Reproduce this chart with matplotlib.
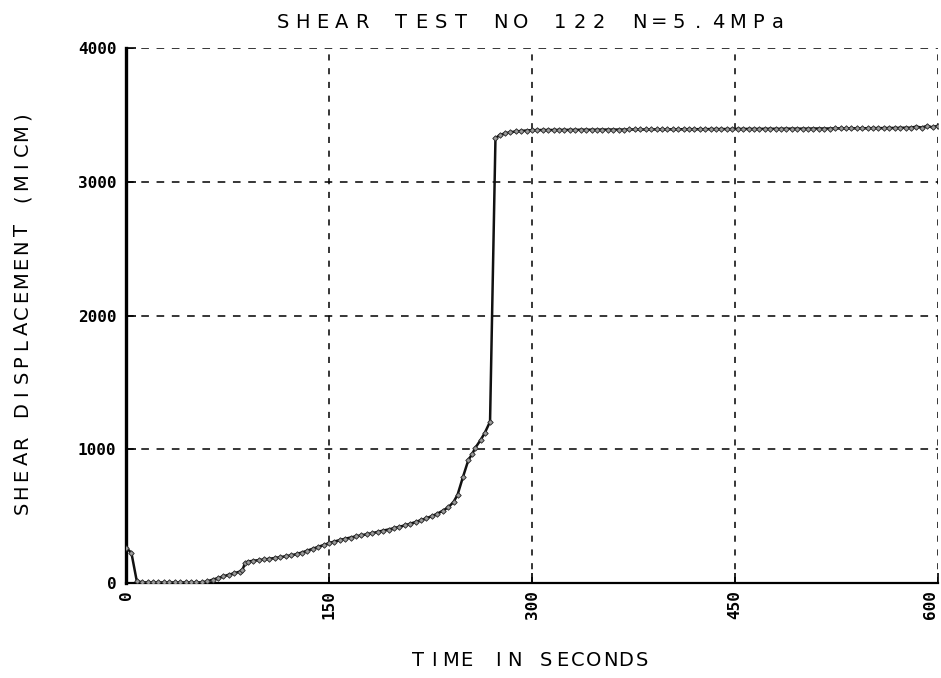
import numpy as np
import matplotlib
matplotlib.use("Agg")
import matplotlib.pyplot as plt

W, H = 941, 678

# shear test 122, sampled displacement vs time
t_start = [0, 4, 8, 12, 16, 20, 24, 28, 32, 36, 40, 44, 48, 52, 56,
           60, 64, 68, 72, 76, 80, 84, 86, 88, 90, 94, 98, 102, 106, 110,
           114, 118, 122, 126, 130, 134, 138, 142, 146, 150, 154, 158, 162,
           166, 170, 174, 178, 182, 186, 190, 194, 198, 202, 206, 210, 214,
           218, 222, 226, 230, 234, 238, 242, 245, 249, 253, 256, 258, 262,
           265, 269, 273, 276, 280, 284, 288, 292, 296, 300]
d_start = [265, 225, 12, 5, 4, 4, 4, 4, 4, 4, 4, 4, 4, 4, 5,
           12, 25, 37, 50, 62, 73, 85, 97, 150, 160, 166, 171, 176, 181, 187,
           193, 200, 207, 216, 228, 242, 256, 270, 284, 298, 310, 321, 331,
           340, 349, 357, 365, 373, 382, 392, 400, 410, 420, 431, 443, 456,
           470, 484, 500, 518, 540, 565, 605, 660, 793, 920, 968, 1009, 1069,
           1120, 1206, 3325, 3348, 3362, 3370, 3376, 3380, 3383, 3386]

t_plateau = np.arange(304, 601, 4)
d_plateau = [3386, 3387, 3387, 3387, 3388, 3388, 3388, 3388, 3389, 3389,
             3389, 3389, 3390, 3390, 3390, 3390, 3390, 3391, 3391, 3391,
             3391, 3391, 3392, 3392, 3392, 3392, 3392, 3393, 3393, 3393,
             3393, 3393, 3394, 3394, 3394, 3394, 3394, 3395, 3395, 3395,
             3395, 3395, 3396, 3396, 3396, 3396, 3397, 3397, 3397, 3397,
             3397, 3398, 3398, 3398, 3398, 3399, 3399, 3399, 3399, 3400,
             3400, 3400, 3401, 3401, 3401, 3402, 3402, 3403, 3404, 3404,
             3412, 3405, 3418, 3406, 3420]

time = np.concatenate([t_start, t_plateau])
disp = np.concatenate([d_start, d_plateau])

xticks = [0, 150, 300, 450, 600]
yticks = [0, 1000, 2000, 3000, 4000]

fig = plt.figure(figsize=(W / 100, H / 100), dpi=100)
ax = fig.add_axes([126 / W, 1 - 583 / H, 812 / W, 535 / H])

ax.plot(time, disp, color="#111111", lw=1.8, marker="D", ms=2.8,
        mfc="#9a9a9a", mec="#222222", mew=0.6, zorder=3)

ax.set_xlim(0, 600)
ax.set_ylim(0, 4000)
ax.set_xticks(xticks)
ax.set_yticks(yticks)
ax.set_xticklabels([str(v) for v in xticks], rotation=90, family="DejaVu Sans Mono",
                   fontweight="bold", fontsize=11.5)
ax.set_yticklabels([str(v) for v in yticks], family="DejaVu Sans Mono",
                   fontweight="bold", fontsize=11.5)
ax.tick_params(direction="in", length=7, width=1.2, pad=7, color="black")
ax.tick_params(axis="x", pad=5)
# last label sits on the page edge, keep it inside
ax.get_xticklabels()[-1].set_horizontalalignment("right")

# dashed grid, also standing in for the top and right frame
for v in yticks[1:]:
    ax.axhline(v, color="black", lw=1.1, dashes=(5, 5), zorder=1)
for v in xticks[1:]:
    ax.axvline(v, color="black", lw=1.1, dashes=(4, 5), zorder=1)

ax.spines["top"].set_visible(False)
ax.spines["right"].set_visible(False)
ax.spines["left"].set_linewidth(2.4)
ax.spines["bottom"].set_linewidth(1.6)


def spaced_text(s, x, y, pitch, rotation=0, size=14):
    # plotter style lettering: one character per fixed pitch, centred on (x, y) px
    n = len(s)
    for i, ch in enumerate(s):
        off = (i - (n - 1) / 2) * pitch
        if rotation:
            px, py = x, y - off
        else:
            px, py = x + off, y
        fig.text(px / W, 1 - py / H, ch, rotation=rotation, ha="center",
                 va="center", fontsize=size, family="DejaVu Sans")


spaced_text("SHEAR TEST NO 122 N=5.4MPa", 530, 22, 19.8)
spaced_text("TIME IN SECONDS", 530, 660, 16)
spaced_text("SHEAR DISPLACEMENT (MICM)", 22, 312, 16.3, rotation=90)

fig.savefig("out.png", dpi=100)
